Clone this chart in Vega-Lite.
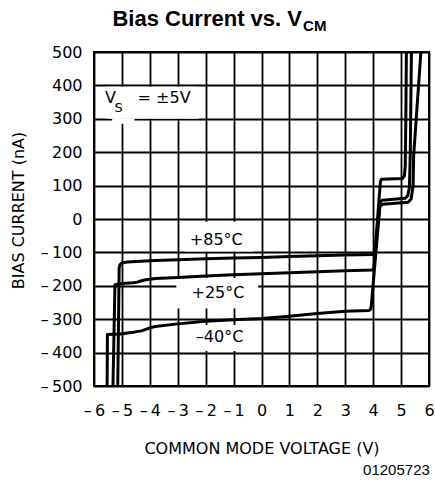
{
  "$schema": "https://vega.github.io/schema/vega-lite/v6.json",
  "width": 335,
  "height": 334,
  "autosize": {"type": "none"},
  "padding": {"left": 94, "top": 52, "right": 6, "bottom": 98},
  "background": "white",
  "data": {"values": [{}]},
  "resolve": {"axis": {"x": "independent", "y": "independent"}},
  "config": {
    "view": {"stroke": "black", "strokeWidth": 2},
    "axis": {
      "grid": true, "gridColor": "black", "gridWidth": 1.8, "gridOpacity": 1,
      "domain": false, "ticks": false, "tickSize": 0,
      "labelFont": "DejaVu Sans", "labelFontSize": 16, "labelColor": "black",
      "labelFlush": false, "labelOverlap": false,
      "titleFont": "DejaVu Sans", "titleFontSize": 16, "titleFontWeight": "normal", "titleColor": "black"
    },
    "text": {"font": "DejaVu Sans", "fontSize": 16, "color": "black"}
  },
  "datasets": {
    "curves": [
      {"t": "+85°C", "x": -5.15, "y": -500}, {"t": "+85°C", "x": -5.12, "y": -300}, {"t": "+85°C", "x": -5.1, "y": -148},
      {"t": "+85°C", "x": -5.07, "y": -137}, {"t": "+85°C", "x": -5.0, "y": -132}, {"t": "+85°C", "x": -4.8, "y": -129},
      {"t": "+85°C", "x": -4.5, "y": -127}, {"t": "+85°C", "x": -3.8, "y": -124}, {"t": "+85°C", "x": -3, "y": -122},
      {"t": "+85°C", "x": -2, "y": -119}, {"t": "+85°C", "x": -1, "y": -117}, {"t": "+85°C", "x": 0, "y": -115},
      {"t": "+85°C", "x": 1, "y": -112}, {"t": "+85°C", "x": 2, "y": -110}, {"t": "+85°C", "x": 3, "y": -108},
      {"t": "+85°C", "x": 4.0, "y": -106}, {"t": "+85°C", "x": 4.06, "y": -104}, {"t": "+85°C", "x": 4.26, "y": 112},
      {"t": "+85°C", "x": 4.3, "y": 119}, {"t": "+85°C", "x": 5.05, "y": 121}, {"t": "+85°C", "x": 5.12, "y": 130},
      {"t": "+85°C", "x": 5.15, "y": 160}, {"t": "+85°C", "x": 5.17, "y": 300}, {"t": "+85°C", "x": 5.19, "y": 500},

      {"t": "+25°C", "x": -5.32, "y": -500}, {"t": "+25°C", "x": -5.25, "y": -197}, {"t": "+25°C", "x": -5.0, "y": -193},
      {"t": "+25°C", "x": -4.6, "y": -191}, {"t": "+25°C", "x": -4.45, "y": -189}, {"t": "+25°C", "x": -4.3, "y": -185},
      {"t": "+25°C", "x": -4.15, "y": -182}, {"t": "+25°C", "x": -3.8, "y": -178}, {"t": "+25°C", "x": -3, "y": -175},
      {"t": "+25°C", "x": -2, "y": -171}, {"t": "+25°C", "x": -1, "y": -167}, {"t": "+25°C", "x": 0, "y": -164},
      {"t": "+25°C", "x": 1, "y": -161}, {"t": "+25°C", "x": 2, "y": -158}, {"t": "+25°C", "x": 3, "y": -155},
      {"t": "+25°C", "x": 3.95, "y": -153}, {"t": "+25°C", "x": 4.02, "y": -150}, {"t": "+25°C", "x": 4.25, "y": 50},
      {"t": "+25°C", "x": 4.32, "y": 56}, {"t": "+25°C", "x": 5.15, "y": 62}, {"t": "+25°C", "x": 5.24, "y": 70},
      {"t": "+25°C", "x": 5.3, "y": 95}, {"t": "+25°C", "x": 5.33, "y": 200}, {"t": "+25°C", "x": 5.37, "y": 500},

      {"t": "-40°C", "x": -5.53, "y": -500}, {"t": "-40°C", "x": -5.52, "y": -346}, {"t": "-40°C", "x": -5.3, "y": -345},
      {"t": "-40°C", "x": -5.07, "y": -344}, {"t": "-40°C", "x": -4.8, "y": -341}, {"t": "-40°C", "x": -4.53, "y": -338},
      {"t": "-40°C", "x": -4.3, "y": -335}, {"t": "-40°C", "x": -4.17, "y": -331}, {"t": "-40°C", "x": -4.0, "y": -326},
      {"t": "-40°C", "x": -3.81, "y": -322}, {"t": "-40°C", "x": -3, "y": -314}, {"t": "-40°C", "x": -2, "y": -306},
      {"t": "-40°C", "x": -1, "y": -302}, {"t": "-40°C", "x": 0, "y": -298}, {"t": "-40°C", "x": 1, "y": -291},
      {"t": "-40°C", "x": 2, "y": -283}, {"t": "-40°C", "x": 3, "y": -276}, {"t": "-40°C", "x": 3.85, "y": -274},
      {"t": "-40°C", "x": 3.9, "y": -271}, {"t": "-40°C", "x": 3.93, "y": -262}, {"t": "-40°C", "x": 4.24, "y": 38},
      {"t": "-40°C", "x": 4.34, "y": 44}, {"t": "-40°C", "x": 5.25, "y": 50}, {"t": "-40°C", "x": 5.36, "y": 60},
      {"t": "-40°C", "x": 5.43, "y": 100}, {"t": "-40°C", "x": 5.45, "y": 190}, {"t": "-40°C", "x": 5.71, "y": 500}
    ]
  },
  "layer": [
    {
      "data": {"name": "curves"},
      "mark": {"type": "line", "color": "black", "strokeWidth": 3, "strokeJoin": "round", "opacity": 0},
      "encoding": {
        "x": {
          "field": "x", "type": "quantitative",
          "scale": {"domain": [-6, 6], "nice": false},
          "axis": {
            "values": [-6, -5, -4, -3, -2, -1, 0, 1, 2, 3, 4, 5, 6], "format": "d",
            "labelExpr": "replace(datum.label, '−', '–\u2009')",
            "labelPadding": 29, "labelBaseline": "alphabetic",
            "title": "COMMON MODE VOLTAGE (V)", "titleY": 67, "titleBaseline": "alphabetic"
          }
        },
        "y": {
          "field": "y", "type": "quantitative",
          "scale": {"domain": [-500, 500], "nice": false},
          "axis": {
            "values": [-500, -400, -300, -200, -100, 0, 100, 200, 300, 400, 500], "format": "d",
            "labelExpr": "replace(datum.label, '−', '–\u2009')",
            "labelPadding": 12,
            "title": "BIAS CURRENT (nA)", "titleX": -71, "titleY": 158, "titleBaseline": "alphabetic"
          }
        },
        "detail": {"field": "t", "type": "nominal"}
      }
    },
    {
      "mark": {"type": "rect", "color": "white"},
      "encoding": {
        "x": {"datum": -5.55, "type": "quantitative", "scale": {"domain": [-6, 6], "nice": false}, "axis": null},
        "x2": {"datum": -2.25},
        "y": {"datum": 300.5, "type": "quantitative", "scale": {"domain": [-500, 500], "nice": false}, "axis": null},
        "y2": {"datum": 396}
      }
    },
    {
      "mark": {"type": "rect", "color": "white"},
      "encoding": {
        "x": {"datum": -5.35, "type": "quantitative", "scale": {"domain": [-6, 6], "nice": false}, "axis": null},
        "x2": {"datum": -4.55},
        "y": {"datum": 285, "type": "quantitative", "scale": {"domain": [-500, 500], "nice": false}, "axis": null},
        "y2": {"datum": 301}
      }
    },
    {
      "mark": {"type": "rect", "color": "white"},
      "encoding": {
        "x": {"datum": -2.75, "type": "quantitative", "scale": {"domain": [-6, 6], "nice": false}, "axis": null},
        "x2": {"datum": -0.3},
        "y": {"datum": -97, "type": "quantitative", "scale": {"domain": [-500, 500], "nice": false}, "axis": null},
        "y2": {"datum": -8}
      }
    },
    {
      "mark": {"type": "rect", "color": "white"},
      "encoding": {
        "x": {"datum": -3.05, "type": "quantitative", "scale": {"domain": [-6, 6], "nice": false}, "axis": null},
        "x2": {"datum": -0.12},
        "y": {"datum": -268, "type": "quantitative", "scale": {"domain": [-500, 500], "nice": false}, "axis": null},
        "y2": {"datum": -177}
      }
    },
    {
      "mark": {"type": "rect", "color": "white"},
      "encoding": {
        "x": {"datum": -2.6, "type": "quantitative", "scale": {"domain": [-6, 6], "nice": false}, "axis": null},
        "x2": {"datum": -0.3},
        "y": {"datum": -395, "type": "quantitative", "scale": {"domain": [-500, 500], "nice": false}, "axis": null},
        "y2": {"datum": -317}
      }
    },
    {
      "data": {"name": "curves"},
      "mark": {"type": "line", "color": "black", "strokeWidth": 3, "strokeJoin": "round"},
      "encoding": {
        "x": {"field": "x", "type": "quantitative", "scale": {"domain": [-6, 6], "nice": false}, "axis": null},
        "y": {"field": "y", "type": "quantitative", "scale": {"domain": [-500, 500], "nice": false}, "axis": null},
        "detail": {"field": "t", "type": "nominal"}
      }
    },
    {
      "mark": {"type": "text", "align": "center", "baseline": "middle"},
      "encoding": {
        "x": {"datum": -1.62, "type": "quantitative", "scale": {"domain": [-6, 6], "nice": false}, "axis": null},
        "y": {"datum": -64, "type": "quantitative", "scale": {"domain": [-500, 500], "nice": false}, "axis": null},
        "text": {"value": "+85°C"}
      }
    },
    {
      "mark": {"type": "text", "align": "center", "baseline": "middle"},
      "encoding": {
        "x": {"datum": -1.56, "type": "quantitative", "scale": {"domain": [-6, 6], "nice": false}, "axis": null},
        "y": {"datum": -222, "type": "quantitative", "scale": {"domain": [-500, 500], "nice": false}, "axis": null},
        "text": {"value": "+25°C"}
      }
    },
    {
      "mark": {"type": "text", "align": "center", "baseline": "middle"},
      "encoding": {
        "x": {"datum": -1.5, "type": "quantitative", "scale": {"domain": [-6, 6], "nice": false}, "axis": null},
        "y": {"datum": -354, "type": "quantitative", "scale": {"domain": [-500, 500], "nice": false}, "axis": null},
        "text": {"value": "–40°C"}
      }
    },
    {
      "mark": {"type": "text", "align": "left", "baseline": "alphabetic"},
      "encoding": {
        "x": {"datum": -5.606, "type": "quantitative", "scale": {"domain": [-6, 6], "nice": false}, "axis": null},
        "y": {"datum": 347, "type": "quantitative", "scale": {"domain": [-500, 500], "nice": false}, "axis": null},
        "text": {"value": "V"}
      }
    },
    {
      "mark": {"type": "text", "align": "left", "baseline": "alphabetic", "fontSize": 13},
      "encoding": {
        "x": {"datum": -5.27, "type": "quantitative", "scale": {"domain": [-6, 6], "nice": false}, "axis": null},
        "y": {"datum": 320, "type": "quantitative", "scale": {"domain": [-500, 500], "nice": false}, "axis": null},
        "text": {"value": "S"}
      }
    },
    {
      "mark": {"type": "text", "align": "left", "baseline": "alphabetic"},
      "encoding": {
        "x": {"datum": -4.44, "type": "quantitative", "scale": {"domain": [-6, 6], "nice": false}, "axis": null},
        "y": {"datum": 347, "type": "quantitative", "scale": {"domain": [-500, 500], "nice": false}, "axis": null},
        "text": {"value": "= ±5V"}
      }
    },
    {
      "mark": {"type": "text", "align": "right", "baseline": "alphabetic", "font": "Liberation Sans", "fontWeight": "bold", "fontSize": 22},
      "encoding": {
        "x": {"datum": 1.45, "type": "quantitative", "scale": {"domain": [-6, 6], "nice": false}, "axis": null},
        "y": {"datum": 578, "type": "quantitative", "scale": {"domain": [-500, 500], "nice": false}, "axis": null},
        "text": {"value": "Bias Current vs. V"}
      }
    },
    {
      "mark": {"type": "text", "align": "left", "baseline": "alphabetic", "font": "Liberation Sans", "fontWeight": "bold", "fontSize": 15},
      "encoding": {
        "x": {"datum": 1.49, "type": "quantitative", "scale": {"domain": [-6, 6], "nice": false}, "axis": null},
        "y": {"datum": 562, "type": "quantitative", "scale": {"domain": [-500, 500], "nice": false}, "axis": null},
        "text": {"value": "CM"}
      }
    },
    {
      "mark": {"type": "text", "align": "right", "baseline": "alphabetic", "font": "Liberation Sans", "fontSize": 15},
      "encoding": {
        "x": {"datum": 6.03, "type": "quantitative", "scale": {"domain": [-6, 6], "nice": false}, "axis": null},
        "y": {"datum": -766, "type": "quantitative", "scale": {"domain": [-500, 500], "nice": false}, "axis": null},
        "text": {"value": "01205723"}
      }
    }
  ]
}
